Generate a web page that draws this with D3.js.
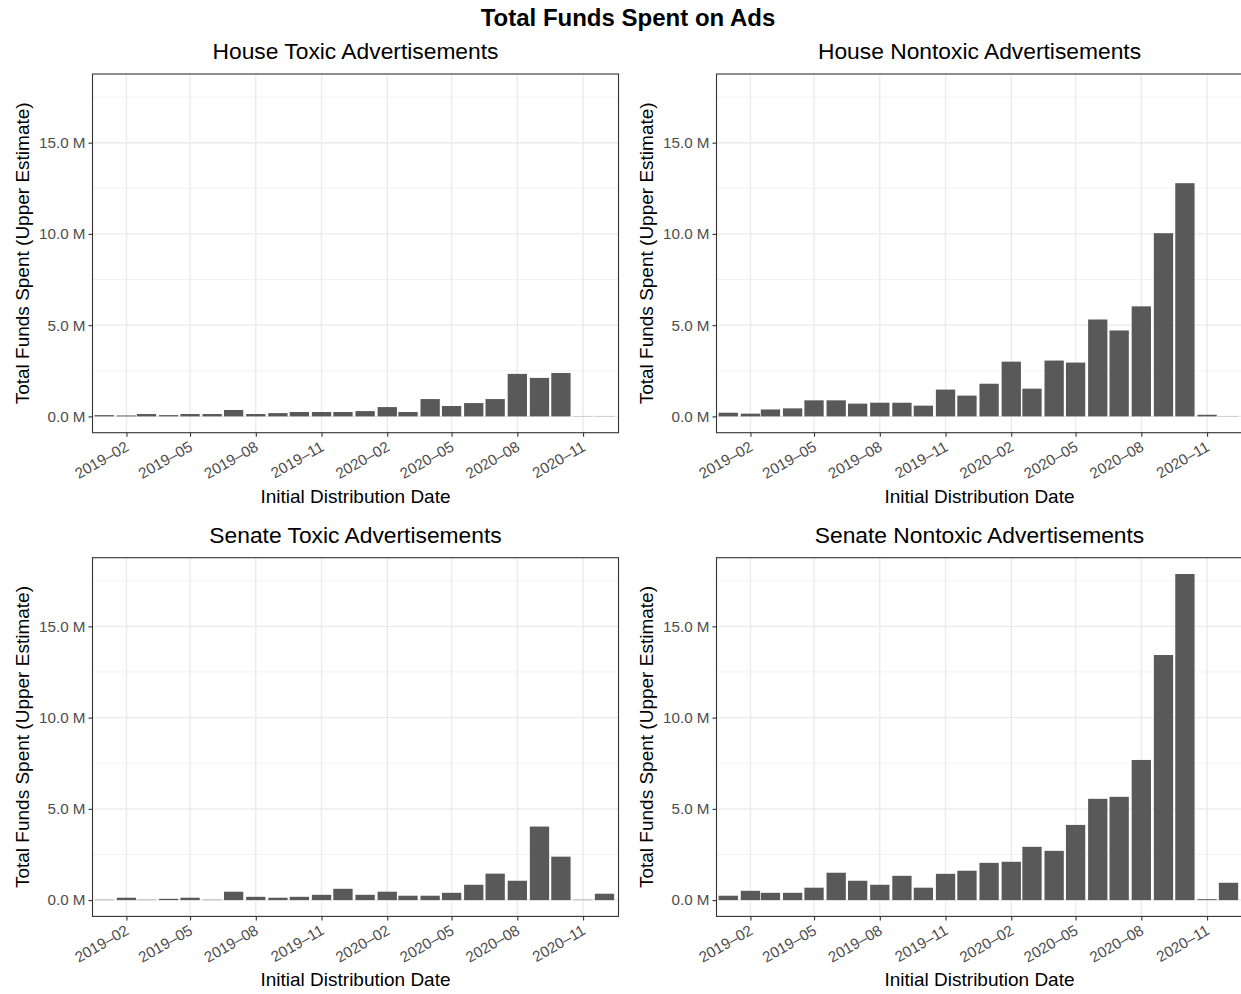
<!DOCTYPE html>
<html>
<head>
<meta charset="utf-8">
<script src="https://cdn.jsdelivr.net/npm/d3@7"></script>
<style>
  html, body { margin: 0; padding: 0; background: #ffffff; }
  svg { display: block; }
  text { font-family: "Liberation Sans", Arial, Helvetica, sans-serif; }
</style>
</head>
<body>
<svg id="chart" width="1241" height="994"></svg>
<script>
// Monthly totals (millions of USD, upper estimate)
const months = ["2019-01","2019-02","2019-03","2019-04","2019-05","2019-06","2019-07","2019-08","2019-09","2019-10","2019-11","2019-12",
                "2020-01","2020-02","2020-03","2020-04","2020-05","2020-06","2020-07","2020-08","2020-09","2020-10","2020-11","2020-12"];
const houseToxic     = [0.07,0.05,0.13,0.07,0.13,0.13,0.35,0.13,0.18,0.24,0.24,0.24,0.29,0.51,0.24,0.95,0.57,0.73,0.95,2.33,2.11,2.38,0.01,0.01];
const houseNontoxic  = [0.20,0.15,0.38,0.44,0.88,0.88,0.70,0.75,0.75,0.59,1.47,1.14,1.79,3.00,1.52,3.06,2.95,5.31,4.71,6.03,10.04,12.78,0.09,0.01];
const senateToxic    = [0.02,0.13,0.02,0.07,0.13,0.02,0.46,0.18,0.13,0.18,0.29,0.62,0.29,0.46,0.24,0.24,0.40,0.84,1.45,1.06,4.03,2.38,0.02,0.35];
const senateNontoxic = [0.24,0.51,0.40,0.40,0.68,1.50,1.06,0.84,1.33,0.68,1.44,1.61,2.04,2.10,2.92,2.70,4.12,5.55,5.66,7.68,13.43,17.87,0.05,0.95];

const panelTitles = ["House Toxic Advertisements","House Nontoxic Advertisements","Senate Toxic Advertisements","Senate Nontoxic Advertisements"];
const xTickLabels = ["2019-02","2019-05","2019-08","2019-11","2020-02","2020-05","2020-08","2020-11"];
const yTickValues = [0, 5, 10, 15];
const yMinorValues = [2.5, 7.5, 12.5, 17.5];

const chartTitle = "Total Funds Spent on Ads";
const xTitle = "Initial Distribution Date";
const yTitle = "Total Funds Spent (Upper Estimate)";

const panels = [
  { title: panelTitles[0], values: houseToxic,     col: 0, row: 0 },
  { title: panelTitles[1], values: houseNontoxic,  col: 1, row: 0 },
  { title: panelTitles[2], values: senateToxic,    col: 0, row: 1 },
  { title: panelTitles[3], values: senateNontoxic, col: 1, row: 1 }
];

const parseMonth = s => { const [y, m] = s.split("-").map(Number); return new Date(Date.UTC(y, m - 1, 1)); };
const DAY = 86400000;

const svg = d3.select("#chart");
const W = 526, H = 358.7;
const colX = [92.5, 716.5], rowY = [74, 557.7];
const barColor = "#595959", gridColor = "#EBEBEB", axisColor = "#333333", tickText = "#4D4D4D";

// shared y range across panels with 5% padding
const maxV = d3.max([houseToxic, houseNontoxic, senateToxic, senateNontoxic].flat());
const pad = maxV * 0.05;

svg.append("text")
  .attr("x", 628).attr("y", 26)
  .attr("text-anchor", "middle")
  .attr("font-size", 24).attr("font-weight", "bold").attr("fill", "#000")
  .text(chartTitle);

panels.forEach(p => {
  const x0 = colX[p.col], y0 = rowY[p.row];
  const g = svg.append("g");

  const x = d3.scaleUtc()
    .domain([new Date(Date.UTC(2018, 11, 15, 12)), new Date(Date.UTC(2020, 11, 20, 14))])
    .range([x0, x0 + W]);
  const y = d3.scaleLinear().domain([-pad, maxV + pad]).range([y0 + H, y0]);

  // panel background + grid
  g.append("rect").attr("x", x0).attr("y", y0).attr("width", W).attr("height", H).attr("fill", "#fff");
  g.selectAll(".ymin").data(yMinorValues).join("line")
    .attr("x1", x0).attr("x2", x0 + W)
    .attr("y1", d => y(d)).attr("y2", d => y(d))
    .attr("stroke", gridColor).attr("stroke-width", 0.7);
  g.selectAll(".ymaj").data(yTickValues).join("line")
    .attr("x1", x0).attr("x2", x0 + W)
    .attr("y1", d => y(d)).attr("y2", d => y(d))
    .attr("stroke", gridColor).attr("stroke-width", 1.4);
  g.selectAll(".xmaj").data(xTickLabels).join("line")
    .attr("x1", d => x(parseMonth(d))).attr("x2", d => x(parseMonth(d)))
    .attr("y1", y0).attr("y2", y0 + H)
    .attr("stroke", gridColor).attr("stroke-width", 1.4);

  // bars: centred on the first of each month, 27 days wide
  const half = 13.5 * DAY;
  g.selectAll(".bar").data(months.map((m, i) => ({ m: parseMonth(m), v: p.values[i] }))).join("rect")
    .attr("x", d => x(new Date(+d.m - half)))
    .attr("width", d => x(new Date(+d.m + half)) - x(new Date(+d.m - half)))
    .attr("y", d => y(Math.max(d.v, 0)))
    .attr("height", d => Math.abs(y(0) - y(d.v)))
    .attr("fill", barColor);

  // panel border
  g.append("rect").attr("x", x0).attr("y", y0).attr("width", W).attr("height", H)
    .attr("fill", "none").attr("stroke", axisColor).attr("stroke-width", 1.1);

  // y axis
  const yAxis = d3.axisLeft(y).tickValues(yTickValues).tickSize(4).tickPadding(3)
    .tickFormat(d => d3.format(".1f")(d) + " M");
  const ya = g.append("g").attr("transform", `translate(${x0},0)`).call(yAxis);
  ya.select(".domain").remove();
  ya.selectAll(".tick line").attr("stroke", axisColor).attr("stroke-width", 1.1);
  ya.selectAll(".tick text").attr("fill", tickText).attr("font-size", 15.2)
    .attr("font-family", "'Liberation Sans', Arial, sans-serif");

  // x axis
  const xAxis = d3.axisBottom(x).tickValues(xTickLabels.map(parseMonth)).tickSize(4)
    .tickFormat((d, i) => xTickLabels[i].replace("-", "\u2013"));
  const xa = g.append("g").attr("transform", `translate(0,${y0 + H})`).call(xAxis);
  xa.select(".domain").remove();
  xa.selectAll(".tick line").attr("stroke", axisColor).attr("stroke-width", 1.1);
  xa.selectAll(".tick text")
    .attr("fill", tickText).attr("font-size", 15.2)
    .attr("font-family", "'Liberation Sans', Arial, sans-serif")
    .attr("text-anchor", "end")
    .attr("y", 0).attr("dy", 0)
    .attr("transform", "translate(3,17) rotate(-30)");

  // titles
  g.append("text")
    .attr("x", x0 + W / 2).attr("y", y0 - 15)
    .attr("text-anchor", "middle").attr("font-size", 22.8).attr("fill", "#000")
    .text(p.title);
  g.append("text")
    .attr("x", x0 + W / 2).attr("y", y0 + H + 70)
    .attr("text-anchor", "middle").attr("font-size", 19).attr("fill", "#000")
    .text(xTitle);
  g.append("text")
    .attr("transform", `translate(${x0 - 64},${y0 + H / 2}) rotate(-90)`)
    .attr("text-anchor", "middle").attr("font-size", 19).attr("fill", "#000")
    .text(yTitle);
});
</script>
</body>
</html>
